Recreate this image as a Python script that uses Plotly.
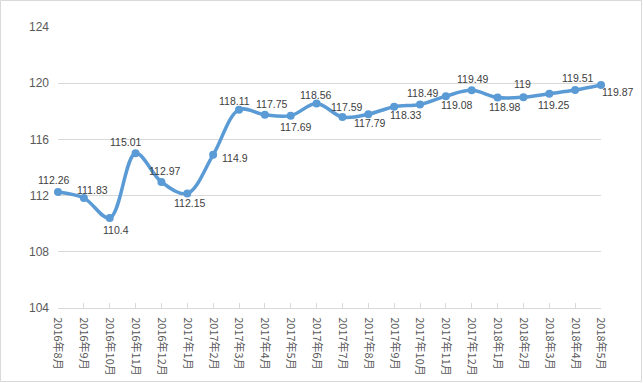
import plotly.graph_objects as go

months = ["2016年8月", "2016年9月", "2016年10月", "2016年11月", "2016年12月",
          "2017年1月", "2017年2月", "2017年3月", "2017年4月", "2017年5月",
          "2017年6月", "2017年7月", "2017年8月", "2017年9月", "2017年10月",
          "2017年11月", "2017年12月", "2018年1月", "2018年2月", "2018年3月",
          "2018年4月", "2018年5月"]
values = [112.26, 111.83, 110.4, 115.01, 112.97,
          112.15, 114.9, 118.11, 117.75, 117.69,
          118.56, 117.59, 117.79, 118.33, 118.49,
          119.08, 119.49, 118.98, 119.0, 119.25,
          119.51, 119.87]
labels = ["112.26", "111.83", "110.4", "115.01", "112.97",
          "112.15", "114.9", "118.11", "117.75", "117.69",
          "118.56", "117.59", "117.79", "118.33", "118.49",
          "119.08", "119.49", "118.98", "119", "119.25",
          "119.51", "119.87"]
y_ticks = [104, 108, 112, 116, 120, 124]

# label offsets from each point (pixels; dx right, dy down), as placed in the source chart
label_dx = [-5, 9, 6, -10, 3, 2, 22, -5, 7, 5, -1, 4, 1, 11, 2, 11, 1, 7, -1, 4, 2, 16]
label_dy = [-12, -8, 12, -11, -11, 10, 3, -9, -11, 11, -8, -10, 9, 8, -11, 9, -11, 9, -13, 11, -12, 7]

W, H = 643, 383
L, R, T, B = 58, 42, 27, 75
pw, ph = W - L - R, H - T - B

xs = list(range(len(months)))

fig = go.Figure()
fig.add_trace(go.Scatter(
    x=xs, y=values,
    mode="lines+markers",
    line=dict(color="#5B9BD5", width=3.5, shape="spline", smoothing=1),
    marker=dict(color="#5B9BD5", size=8),
    cliponaxis=False, showlegend=False, hoverinfo="x+y",
))

annotations = []
for x, v, t, dx, dy in zip(xs, values, labels, label_dx, label_dy):
    annotations.append(dict(
        x=x, y=v, xref="x", yref="y", text=t, showarrow=False,
        xshift=dx, yshift=-dy, xanchor="center", yanchor="middle",
        font=dict(family="Liberation Sans, Arial", size=10.5, color="#404040"),
    ))

fig.update_layout(
    width=W, height=H,
    margin=dict(l=L, r=R, t=T, b=B, autoexpand=False),
    paper_bgcolor="white", plot_bgcolor="white",
    annotations=annotations,
    xaxis=dict(
        tickmode="array", tickvals=xs, ticktext=months,
        range=[0, len(months) - 1], tickangle=90, automargin=False,
        showgrid=False, zeroline=False,
        showline=True, linecolor="#D9D9D9", linewidth=1,
        ticks="inside", ticklen=5, tickcolor="#D9D9D9",
        tickfont=dict(family="Noto Sans CJK SC", size=11, color="#595959"),
        ticklabelstandoff=6,
    ),
    yaxis=dict(
        range=[104, 124], tickvals=y_ticks, automargin=False,
        showgrid=True, gridcolor="#D9D9D9", gridwidth=1,
        zeroline=False, showline=False, ticks="",
        tickfont=dict(family="Liberation Sans, Arial", size=12, color="#595959"),
        ticklabelstandoff=8,
    ),
    shapes=[dict(
        type="rect", xref="paper", yref="paper",
        x0=(0.5 - L) / pw, x1=(W - 1.5 - L) / pw,
        y0=(H - B - (H - 1.5)) / ph, y1=(H - B - 0.5) / ph,
        line=dict(color="#D9D9D9", width=1), fillcolor="rgba(0,0,0,0)",
        layer="below",
    )],
)

fig.write_html(
    "out.html",
    config={"displayModeBar": False},
    post_script="document.body.style.margin='0px';document.body.style.overflow='hidden';",
)
